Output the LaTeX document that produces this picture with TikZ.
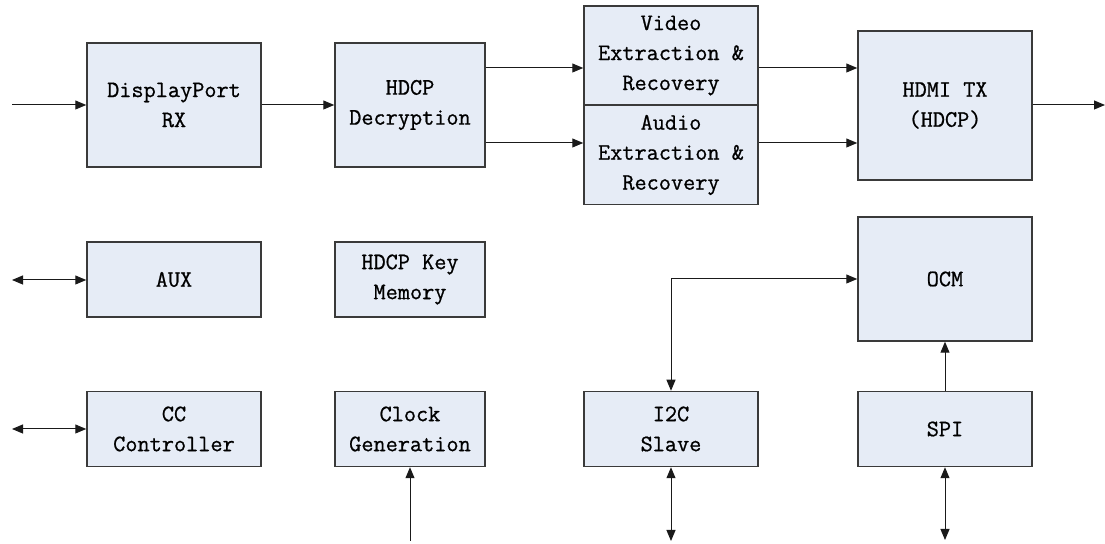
\documentclass[tikz,border=0pt]{standalone}
\usepackage{fontspec}
\usepackage{tikz}
\usetikzlibrary{arrows.meta,positioning}
\newfontfamily\blkfont[FakeBold=0.8]{Latin Modern Mono}
\definecolor{boxfill}{HTML}{E6ECF6}
\definecolor{boxline}{HTML}{3A3A3A}
\definecolor{wire}{HTML}{1A1A1A}
\tikzset{
  blk/.style={draw=boxline, fill=boxfill, line width=0.75pt, align=center,
    inner sep=0pt, font=\blkfont\fontsize{11.8}{15}\selectfont},
  bigblk/.style={blk, minimum width=87pt, minimum height=62pt},
  tallblk/.style={blk, minimum width=87pt, minimum height=74.5pt},
  halfblk/.style={blk, minimum width=87pt, minimum height=49.7pt},
  rowblk/.style={blk, minimum width=87pt, minimum height=37.5pt},
  smallblk/.style={blk, minimum width=75pt, minimum height=37.5pt},
  midblk/.style={blk, minimum width=75pt, minimum height=62pt},
  tip/.tip={Triangle[length=5.5pt,width=4.5pt]},
  arr/.style={draw=wire, line width=0.5pt, -tip},
  arrb/.style={draw=wire, line width=0.5pt, tip-tip},
}
\begin{document}
\begin{tikzpicture}[x=0.5pt, y=-0.5pt]
  \useasboundingbox (0,0) rectangle (1105,544);

  % top row: video path
  \node[bigblk] (dprx) at (174,105) {DisplayPort\\RX};
  \node[midblk] (hdcp) at (410,105) {HDCP\\Decryption};
  \node[halfblk] (vid) at (671,55.5) {Video\\Extraction \&\\Recovery};
  \node[halfblk] (aud) at (671,155) {Audio\\Extraction \&\\Recovery};
  \node[tallblk] (hdmi) at (945,105.5) {HDMI TX\\(HDCP)};

  % side blocks
  \node[rowblk] (aux) at (174,279.5) {AUX};
  \node[smallblk] (keymem) at (410,279.5) {HDCP Key\\Memory};
  \node[rowblk] (cc) at (174,429) {CC\\Controller};
  \node[smallblk] (clk) at (410,429) {Clock\\Generation};
  \node[rowblk] (i2c) at (671,429) {I2C\\Slave};
  \node[bigblk] (ocm) at (945,279) {OCM};
  \node[rowblk] (spi) at (945,429) {SPI};

  % outside ends
  \coordinate (dpin) at (12,105);
  \coordinate (hdmiout) at (1105,105);
  \coordinate (auxio) at (12,280);
  \coordinate (ccio) at (12,429);
  \coordinate (clkin) at (410,541);
  \coordinate (i2cio) at (671,541);
  \coordinate (spiio) at (945,540);
  \coordinate (vrow) at (0,68);
  \coordinate (arow) at (0,143);

  \draw[arr] (dpin) -- (dprx);
  \draw[arr] (dprx) -- (hdcp);
  \draw[arr] (hdcp.east |- vrow) -- (vid.west |- vrow);
  \draw[arr] (hdcp.east |- arow) -- (aud.west |- arow);
  \draw[arr] (vid.east |- vrow) -- (hdmi.west |- vrow);
  \draw[arr] (aud.east |- arow) -- (hdmi.west |- arow);
  \draw[arr] (hdmi.east |- hdmiout) -- (hdmiout);

  \draw[arrb] (auxio) -- (aux.west |- auxio);
  \draw[arrb] (ccio) -- (cc);
  \draw[arr] (clkin) -- (clk.south);
  \draw[arrb] (ocm.west) -| (i2c.north);
  \draw[arr] (spi) -- (ocm);
  \draw[arrb] (i2c.south) -- (i2cio);
  \draw[arrb] (spi.south) -- (spiio);
\end{tikzpicture}
\end{document}
